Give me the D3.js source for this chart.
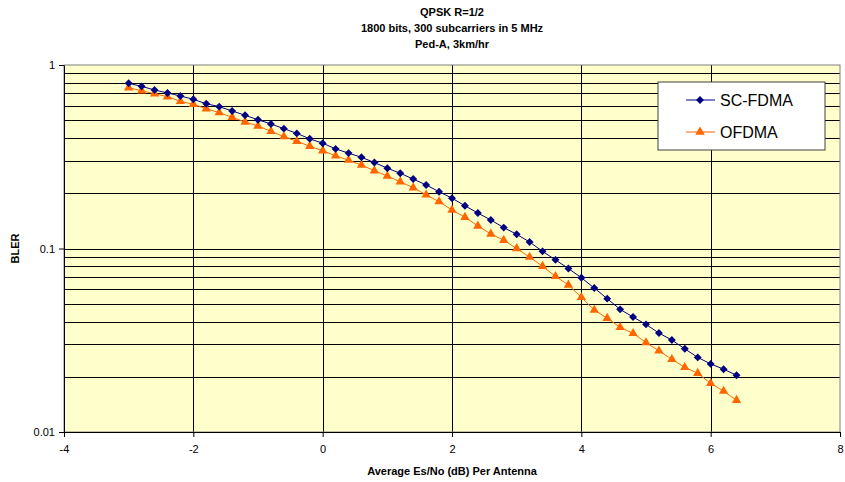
<!DOCTYPE html>
<html>
<head>
<meta charset="utf-8">
<script src="https://cdn.jsdelivr.net/npm/d3@7"></script>
<style>
  body { margin: 0; background: #fff; }
  svg text { font-family: "Liberation Sans", Arial, sans-serif; }
</style>
</head>
<body>
<div id="chart"></div>
<script>
// Es/No values, 0.2 dB steps from -3 to 6.4
const snr = [-3, -2.8, -2.6, -2.4, -2.2, -2, -1.8, -1.6, -1.4, -1.2, -1, -0.8, -0.6, -0.4, -0.2,
  0, 0.2, 0.4, 0.6, 0.8, 1, 1.2, 1.4, 1.6, 1.8, 2, 2.2, 2.4, 2.6, 2.8, 3, 3.2, 3.4, 3.6, 3.8,
  4, 4.2, 4.4, 4.6, 4.8, 5, 5.2, 5.4, 5.6, 5.8, 6, 6.2, 6.4];

const scFdma = [0.795, 0.765, 0.731, 0.704, 0.678, 0.650, 0.615, 0.593, 0.562, 0.532, 0.503, 0.477,
  0.450, 0.424, 0.396, 0.375, 0.349, 0.331, 0.314, 0.294, 0.274, 0.257, 0.239, 0.222, 0.204,
  0.188, 0.171, 0.156, 0.143, 0.130, 0.1195, 0.1085, 0.0965, 0.0867, 0.0778, 0.0693, 0.0609,
  0.0533, 0.0466, 0.0423, 0.0386, 0.0346, 0.0317, 0.0284, 0.0255, 0.0235, 0.0220, 0.0204];

const ofdma = [0.752, 0.724, 0.697, 0.672, 0.634, 0.611, 0.578, 0.550, 0.519, 0.489, 0.465, 0.435,
  0.407, 0.384, 0.361, 0.341, 0.320, 0.303, 0.285, 0.2655, 0.248, 0.231, 0.2145, 0.196, 0.180,
  0.162, 0.148, 0.1327, 0.120, 0.111, 0.100, 0.0898, 0.0800, 0.0705, 0.0633, 0.0542, 0.0462,
  0.0417, 0.0372, 0.0345, 0.0307, 0.0277, 0.0249, 0.0225, 0.0209, 0.0184, 0.0167, 0.0149];

const seriesNames = ["SC-FDMA", "OFDMA"];
const titleLines = ["QPSK R=1/2", "1800 bits, 300 subcarriers in 5 MHz", "Ped-A, 3km/hr"];
const xTicks = [-4, -2, 0, 2, 4, 6, 8];
const yTicks = [1, 0.1, 0.01];

const W = 845, H = 482;
const margin = {top: 65, right: 5, bottom: 50, left: 64};
const width = W - margin.left - margin.right,
      height = H - margin.top - margin.bottom;

const svg = d3.select("#chart").append("svg")
  .attr("width", W)
  .attr("height", H);

const g = svg.append("g")
  .attr("transform", "translate(" + margin.left + "," + margin.top + ")");

const x = d3.scaleLinear().domain([-4, 8]).range([0, width]);
const y = d3.scaleLog().domain([0.01, 1]).range([height, 0]);

// plot background
g.append("rect")
  .attr("width", width).attr("height", height)
  .attr("fill", "#ffffcc");

// horizontal grid, every minor log step
const yGrid = y.ticks().filter(d => d > 0.01 && d < 1);
g.selectAll(".hgrid").data(yGrid).enter().append("line")
  .attr("x1", 0).attr("x2", width)
  .attr("y1", d => Math.round(y(d)) + 0.5).attr("y2", d => Math.round(y(d)) + 0.5)
  .attr("stroke", "#000").attr("stroke-width", 1);

// vertical grid at major ticks
g.selectAll(".vgrid").data(xTicks.slice(1, -1)).enter().append("line")
  .attr("y1", 0).attr("y2", height)
  .attr("x1", d => Math.round(x(d)) + 0.5).attr("x2", d => Math.round(x(d)) + 0.5)
  .attr("stroke", "#000").attr("stroke-width", 1);

// plot border
g.append("rect")
  .attr("width", width).attr("height", height)
  .attr("fill", "none").attr("stroke", "#808080");

// axes (plain hyphen for negatives, like the original)
const xAxis = g.append("g")
  .attr("transform", "translate(0," + height + ")")
  .call(d3.axisBottom(x).tickValues(xTicks).tickFormat(d => String(d))
    .tickSize(5).tickSizeOuter(0).tickPadding(8));
const yAxis = g.append("g")
  .call(d3.axisLeft(y).tickValues(yTicks).tickFormat(d => String(d))
    .tickSize(5).tickSizeOuter(0).tickPadding(4));

[xAxis, yAxis].forEach(a => {
  a.select(".domain").attr("stroke", "#000");
  a.selectAll(".tick line").attr("stroke", "#000");
  a.selectAll("text").attr("font-size", 11).attr("fill", "#000")
    .attr("font-family", "'Liberation Sans', Arial, sans-serif");
});

// series
const sc = snr.map((d, i) => ({x: d, y: scFdma[i]}));
const of = snr.map((d, i) => ({x: d, y: ofdma[i]}));

const line = d3.line().x(d => x(d.x)).y(d => y(d.y));

g.append("path").datum(sc)
  .attr("fill", "none").attr("stroke", "#000080").attr("stroke-width", 1)
  .attr("d", line);
g.append("path").datum(of)
  .attr("fill", "none").attr("stroke", "#ff6600").attr("stroke-width", 1)
  .attr("d", line);

const diamond = d3.symbol().type(d3.symbolDiamond2).size(40);
const triangle = d3.symbol().type(d3.symbolTriangle).size(38);

g.selectAll(".ofm").data(of).enter().append("path")
  .attr("d", triangle)
  .attr("transform", d => "translate(" + x(d.x) + "," + y(d.y) + ")")
  .attr("fill", "#ff6600");
g.selectAll(".scm").data(sc).enter().append("path")
  .attr("d", diamond)
  .attr("transform", d => "translate(" + x(d.x) + "," + y(d.y) + ")")
  .attr("fill", "#000080");

// title
svg.selectAll(".title").data(titleLines).enter().append("text")
  .attr("x", margin.left + width / 2)
  .attr("y", (d, i) => 16 + i * 16)
  .attr("text-anchor", "middle")
  .attr("font-size", 11).attr("font-weight", "bold")
  .text(d => d);

// axis titles
svg.append("text")
  .attr("x", margin.left + width / 2).attr("y", 475)
  .attr("text-anchor", "middle")
  .attr("font-size", 11).attr("font-weight", "bold")
  .text("Average Es/No (dB) Per Antenna");
svg.append("text")
  .attr("transform", "translate(19," + (margin.top + height / 2) + ")rotate(-90)")
  .attr("text-anchor", "middle")
  .attr("font-size", 11).attr("font-weight", "bold")
  .text("BLER");

// legend
const legend = svg.append("g").attr("transform", "translate(658,82)");
legend.append("rect")
  .attr("width", 167).attr("height", 68)
  .attr("fill", "#fff").attr("stroke", "#404040");
const colors = ["#000080", "#ff6600"];
const marks = [diamond, triangle];
seriesNames.forEach((name, i) => {
  const ly = 18 + i * 32;
  legend.append("line")
    .attr("x1", 28).attr("x2", 57).attr("y1", ly).attr("y2", ly)
    .attr("stroke", colors[i]).attr("stroke-width", 1);
  legend.append("path").attr("d", marks[i])
    .attr("transform", "translate(42," + ly + ")")
    .attr("fill", colors[i]);
  legend.append("text")
    .attr("x", 62).attr("y", ly + 6)
    .attr("font-size", 16)
    .text(name);
});
</script>
</body>
</html>
